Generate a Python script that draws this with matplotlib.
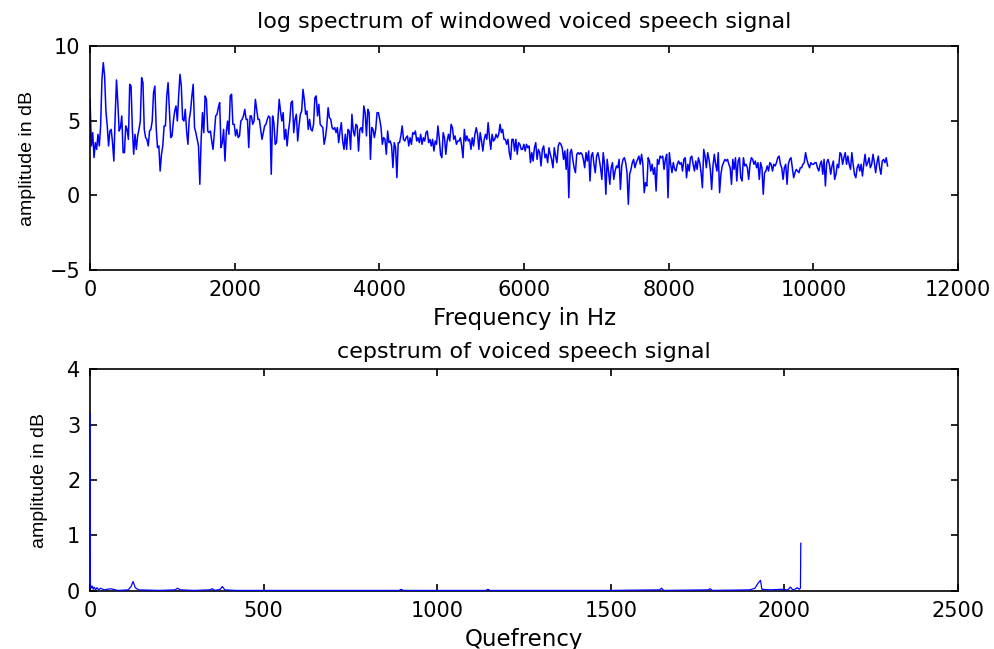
import numpy as np
import matplotlib
matplotlib.use('Agg')
import matplotlib.pyplot as plt

# log spectrum (dB), evenly spaced from 0 to fs/2
spec_a = [6.43, 3.31, 4.2, 2.53, 3.53, 3.08, 4.09, 3.31, 4.65, 7.77, 8.89, 8.0, 5.65, 4.65, 3.31, 4.31,
          4.42, 3.53, 2.3, 5.32, 7.73, 6.21, 4.31, 4.54, 5.32, 2.86, 2.86, 4.65, 4.42, 3.75, 7.44, 7.32,
          4.42, 2.75, 4.09, 3.08, 3.98, 4.42, 4.98, 7.88, 7.55, 4.42, 3.87, 3.75, 3.31, 4.31, 4.42, 4.98,
          6.88, 7.32, 4.54, 3.2, 3.31, 1.63, 2.75, 3.31, 4.65, 4.65, 6.66, 7.55, 5.76, 3.87, 3.98, 4.98,
          5.65, 5.99, 4.98, 6.66, 8.11, 7.32, 5.09, 4.98, 5.76, 4.31, 3.42, 5.09, 5.65, 6.66, 7.44, 4.54,
          4.2, 3.75, 3.31, 0.74, 3.75, 5.54, 4.2, 6.66, 6.43, 4.31, 4.2, 4.31, 3.64, 3.08, 4.2, 5.32,
          5.43, 5.87, 6.21, 3.2, 3.53, 4.42, 2.3, 4.2, 4.98, 4.09, 6.66, 6.77, 4.76, 4.76, 3.98, 4.42,
          3.87, 3.98, 4.98, 5.09, 5.32, 5.76, 5.09, 5.09, 3.2, 5.32, 5.32, 4.76]
spec_b = [4.98, 6.43, 5.76, 5.09, 5.09, 4.42, 3.75, 4.2, 4.65, 4.76, 5.09, 5.32, 5.2, 1.41, 5.32, 4.87,
          3.42, 3.53, 4.98, 6.43, 5.65, 4.98, 5.54, 3.75, 4.42, 3.31, 4.31, 4.98, 6.21, 6.32, 4.2, 5.09,
          5.43, 3.64, 4.65, 5.43, 5.65, 7.1, 6.43, 5.43, 5.65, 4.42, 5.09, 4.42, 4.31, 4.76, 6.54, 6.66,
          5.32, 6.1, 4.76, 4.65, 4.54, 3.42, 3.87, 4.65, 5.87, 5.2, 5.09, 4.54, 4.42, 4.54, 4.2, 4.54,
          3.53, 4.31, 4.87, 3.64, 3.08, 4.09, 3.08, 4.42, 4.31, 3.08, 5.43, 4.31, 3.98, 4.76, 4.65, 2.97,
          4.42, 4.54, 4.2, 5.99, 5.54, 3.98, 5.76, 5.54, 2.41, 4.54, 4.42, 3.87, 4.42, 5.54, 5.54, 5.09,
          4.54, 3.42, 3.87, 3.75, 2.75, 4.31, 3.53, 3.64, 3.31, 1.86, 3.53, 3.2, 1.19, 3.53, 3.53, 3.98,
          4.65, 3.75, 3.64, 3.87, 3.98, 3.31]
spec_c = [3.86, 3.42, 4.2, 4.09, 4.31, 3.64, 3.86, 3.53, 4.09, 3.42, 3.86, 3.64, 4.2, 4.31, 3.53, 3.75,
          3.31, 3.75, 2.97, 3.64, 3.42, 4.65, 3.86, 2.75, 2.52, 4.2, 3.86, 2.75, 3.64, 4.09, 3.64, 4.76,
          4.53, 3.75, 3.98, 3.42, 3.64, 3.64, 3.86, 3.31, 2.52, 4.42, 3.64, 3.98, 3.64, 3.75, 3.08, 3.86,
          3.31, 4.09, 4.53, 4.09, 3.08, 4.2, 3.64, 2.97, 3.75, 4.09, 3.75, 4.87, 3.86, 3.08, 4.09, 3.64,
          3.75, 4.09, 3.86, 4.09, 4.76, 4.2, 4.42, 3.75, 3.75, 3.42, 3.75, 2.86, 2.41, 3.75, 3.75, 2.97,
          3.75, 2.75, 3.53, 3.42, 3.08, 3.08, 3.42, 2.97, 3.42, 3.19, 3.31, 2.19, 2.86, 2.3, 3.19, 3.53,
          2.41, 3.08, 2.86, 1.97, 3.08, 3.31, 2.52, 2.75, 2.19, 3.19, 2.75, 2.41, 1.85, 3.19, 2.64, 2.19,
          3.31, 3.53, 3.42, 3.19, 2.41, 2.97, 1.74, 3.08]
spec_d = [-0.16, 2.86, 3.08, 2.41, 1.85, 1.52, 2.75, 2.86, 2.75, 2.86, 2.75, 2.41, 1.85, 2.86, 2.3, 2.97,
          0.96, 2.63, 2.86, 2.08, 1.52, 2.63, 2.86, 2.41, 1.85, 1.07, 2.86, 2.08, 0.07, 2.41, 1.63, 0.74,
          1.85, 2.19, 1.07, 1.63, 1.97, 1.85, 2.41, 0.4, 1.97, 2.41, 2.52, 2.19, 1.52, -0.6, 1.41, 1.74,
          2.19, 2.41, 1.85, 2.19, 2.41, 2.63, 2.08, 2.75, 2.08, 0.18, 0.85, 0.63, 2.52, 2.3, 1.63, 2.08,
          1.41, 1.85, 0.29, 2.41, 2.08, 2.63, 2.52, 2.63, 1.74, 2.41, 2.75, -0.16, 2.86, 2.08, 1.52, 2.19,
          1.74, 1.63, 2.08, 2.3, 2.08, 2.19, 1.63, 2.41, 2.52, 1.18, 2.08, 1.63, 2.52, 2.63, 2.08, 1.63,
          2.3, 1.74, 2.52, 2.19, 1.52, 0.51, 3.08, 2.63, 1.85, 2.86, 2.41, 1.74, 0.4, 1.97, 2.75, 2.08,
          1.63, 2.86, 0.18, 1.41, 1.97, 2.19, 2.41, 2.3]
spec_e = [2.41, 2.08, 1.85, 0.74, 2.41, 1.74, 2.52, 0.96, 2.3, 2.52, 1.18, 0.96, 2.52, 1.97, 2.08, 1.85,
          1.07, 2.08, 2.52, 2.41, 2.08, 2.3, 1.85, 2.19, 1.07, 2.19, 1.85, 0.07, 1.52, 1.63, 1.97, 1.63,
          2.19, 2.08, 1.63, 2.08, 1.97, 2.19, 2.52, 2.63, 2.08, 1.85, 1.07, 1.85, 2.08, 0.74, 2.08, 2.41,
          2.52, 1.85, 1.18, 1.52, 1.74, 1.63, 1.52, 1.85, 1.85, 2.08, 2.19, 2.86, 2.41, 2.08, 1.85, 2.19,
          2.08, 2.08, 2.19, 2.19, 1.85, 1.63, 2.08, 2.3, 1.41, 2.41, 0.63, 2.19, 2.41, 2.08, 1.41, 1.97,
          2.3, 1.07, 1.41, 2.08, 1.85, 2.86, 2.75, 2.08, 2.52, 2.86, 2.08, 2.63, 2.08, 1.74, 2.86, 2.08,
          1.41, 1.18, 1.85, 2.08, 1.63, 2.08, 1.3, 2.08, 2.75, 1.97, 2.19, 2.52, 1.85, 2.08, 2.75, 2.19,
          1.52, 2.19, 2.63, 1.85, 1.41, 2.3, 2.41, 2.19, 2.52, 1.97]
spec_db = spec_a + spec_b + spec_c + spec_d + spec_e
fs_half = 11025
freq = np.linspace(0, fs_half, len(spec_db))

# cepstrum (quefrency, amplitude)
cep_q = [0, 1, 3, 6, 9, 12, 16, 20, 25, 30, 40, 60, 80, 110, 118, 124, 130, 140, 200, 245, 252, 260,
         300, 345, 352, 360, 375, 381, 388, 420, 600, 890, 896, 902, 1140, 1146, 1152, 1500, 1640, 1646,
         1652, 1780, 1786, 1792, 1900, 1915, 1925, 1931, 1935, 1960, 1990, 2010, 2017, 2024, 2030, 2037,
         2042, 2046, 2047]
cep_v = [3.2, 0.12, 0.05, 0.09, 0.03, 0.07, 0.02, 0.06, 0.02, 0.05, 0.02, 0.04, 0.01, 0.02, 0.08, 0.17,
         0.06, 0.02, 0.01, 0.02, 0.05, 0.02, 0.01, 0.02, 0.04, 0.01, 0.03, 0.08, 0.02, 0.01, 0.01, 0.01,
         0.03, 0.01, 0.01, 0.03, 0.01, 0.01, 0.02, 0.05, 0.01, 0.02, 0.04, 0.01, 0.02, 0.05, 0.15, 0.19,
         0.03, 0.02, 0.03, 0.02, 0.07, 0.02, 0.03, 0.06, 0.03, 0.05, 0.86]

plt.rcParams['font.family'] = 'DejaVu Sans'
fig = plt.figure(figsize=(9.95, 6.49), dpi=100)
ax1 = fig.add_axes([0.0905, 0.584, 0.8724, 0.345])
ax2 = fig.add_axes([0.0905, 0.0894, 0.8724, 0.342])

def matlab_style(ax):
    for s in ax.spines.values():
        s.set_linewidth(1.2)
    ax.tick_params(direction='in', top=True, right=True, length=5, width=1.2,
                   labelsize=15, pad=7)

ax1.plot(freq, spec_db, color='#0000ff', lw=1.1)
ax1.set_xlim(0, 12000)
ax1.set_ylim(-5, 10)
ax1.set_xticks([0, 2000, 4000, 6000, 8000, 10000, 12000])
ax1.set_yticks([-5, 0, 5, 10])
ax1.set_title('log spectrum of windowed voiced speech signal', fontsize=16, pad=13)
ax1.set_xlabel('Frequency in Hz', fontsize=16.5, labelpad=5)
ax1.set_ylabel('amplitude in dB', family='Liberation Sans', fontsize=14, labelpad=10)
matlab_style(ax1)

# line over the spines so the q=0 spike shows on the left edge, like matlab
ax2.plot(cep_q, cep_v, color='#0000ff', lw=0.9, zorder=3, clip_on=False)
ax2.set_xlim(0, 2500)
ax2.set_ylim(0, 4)
ax2.set_xticks([0, 500, 1000, 1500, 2000, 2500])
ax2.set_yticks([0, 1, 2, 3, 4])
ax2.set_title('cepstrum of voiced speech signal', fontsize=16, pad=8)
ax2.set_xlabel('Quefrency', fontsize=16.5, labelpad=5)
ax2.set_ylabel('amplitude in dB', family='Liberation Sans', fontsize=14, labelpad=14)
matlab_style(ax2)

fig.savefig('out.png', dpi=100)
